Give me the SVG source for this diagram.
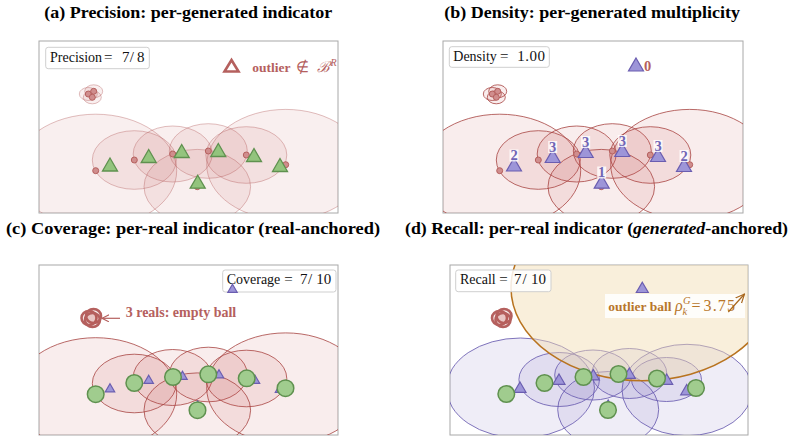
<svg xmlns="http://www.w3.org/2000/svg" xmlns:xlink="http://www.w3.org/1999/xlink" width="799" height="443" viewBox="0 0 799 443">
<style>
.title{font-family:"Liberation Serif",serif;font-weight:bold;font-size:17.5px;fill:#000}
.frame{fill:#fff;stroke:#a8a8a8;stroke-width:1}
.ballA{fill:#c0504d;fill-opacity:0.09;stroke:#b5605e;stroke-opacity:0.4;stroke-width:1}
.ballB{fill:#c0504d;fill-opacity:0.1;stroke:#a84542;stroke-opacity:0.8;stroke-width:1}
.ballD{fill:#7a6cc0;fill-opacity:0.12;stroke:#6a5db0;stroke-opacity:0.85;stroke-width:1}
.ring{fill:#c0504d;fill-opacity:0.12;stroke:#b5605e;stroke-width:2.6}
.dot{fill:#d08d8d;stroke:#b5605e;stroke-width:1}
.gtri{fill:#93c47d;stroke:#5f914f;stroke-width:1.3}
.ptri{fill:#9d95d8;stroke:#6a5db0;stroke-width:1.2}
.rc{fill:#a0cc8e;stroke:#5f914f;stroke-width:1.5}
.legend{fill:#fff;fill-opacity:0.85;stroke:#cfcfcf;stroke-width:1}
.lt{font-family:"Liberation Serif",serif;font-size:14px;fill:#111}
.cnt{font-family:"Liberation Serif",serif;font-weight:bold;font-size:14.5px;fill:#7065b5;text-anchor:middle}
.red{font-family:"Liberation Serif",serif;font-weight:bold;font-size:13.5px;fill:#b5605e}
.red14{font-family:"Liberation Serif",serif;font-weight:bold;font-size:14px;fill:#b5605e}
.org{font-family:"Liberation Serif",serif;font-size:13.5px;fill:#b8762a}
</style>
<defs>
<clipPath id="clipA"><rect x="39" y="41" width="299" height="172"/></clipPath>
<clipPath id="clipB"><rect x="443" y="41" width="300" height="172"/></clipPath>
<clipPath id="clipC"><rect x="39" y="265" width="299" height="170"/></clipPath>
<clipPath id="clipD"><rect x="450" y="265" width="298" height="170"/></clipPath>
<path id="triBig" d="M0,-6.5 L7.5,6.5 L-7.5,6.5 Z"/>
<path id="triSm" d="M0,-4.3 L4.7,3.8 L-4.7,3.8 Z"/>
<path id="triMd" d="M0,-5.5 L6,4.8 L-6,4.8 Z"/>
<circle id="rdot" r="3"/>
<circle id="gcirc" r="8.3"/>
<marker id="arrRed" markerWidth="8" markerHeight="8" refX="7" refY="4" orient="auto" markerUnits="userSpaceOnUse">
<path d="M0,0.5 L7,4 L0,7.5" fill="none" stroke="#b5605e" stroke-width="1.2"/>
</marker>
<marker id="arrOrg" markerWidth="10" markerHeight="10" refX="9" refY="5" orient="auto" markerUnits="userSpaceOnUse">
<path d="M0,1 L9,5 L0,9" fill="none" stroke="#a8661c" stroke-width="1.2"/>
</marker>
</defs>

<!-- Titles -->
<g id="titles">
<text class="title" x="44.3" y="18" textLength="288" lengthAdjust="spacingAndGlyphs">(a) Precision: per-generated indicator</text>
<text class="title" x="444.3" y="18" textLength="295.7" lengthAdjust="spacingAndGlyphs">(b) Density: per-generated multiplicity</text>
<text class="title" x="6" y="234" textLength="374" lengthAdjust="spacingAndGlyphs">(c) Coverage: per-real indicator (real-anchored)</text>
<text class="title" x="405" y="234" textLength="383" lengthAdjust="spacingAndGlyphs">(d) Recall: per-real indicator (<tspan font-style="italic">generated</tspan>-anchored)</text>
</g>

<!-- Panel A -->
<g id="panel-a">
<rect class="frame" x="39" y="41" width="299" height="172"/>
<g clip-path="url(#clipA)">
<g id="a-balls">
<ellipse class="ballA" cx="95.7" cy="170.7" rx="81" ry="56.5"/>
<ellipse class="ballA" cx="134.3" cy="160" rx="42" ry="29.3"/>
<ellipse class="ballA" cx="172.7" cy="154" rx="39.5" ry="28"/>
<ellipse class="ballA" cx="208.3" cy="151" rx="39" ry="27.3"/>
<ellipse class="ballA" cx="246.3" cy="155" rx="40.5" ry="28.3"/>
<ellipse class="ballA" cx="285.7" cy="164.7" rx="79" ry="55.3"/>
<ellipse class="ballA" cx="197.3" cy="186.7" rx="53.3" ry="37.3"/>
<ellipse class="ballA" cx="88.3" cy="94" rx="9" ry="6.5"/>
<ellipse class="ballA" cx="93.7" cy="91.3" rx="9" ry="6.5"/>
<ellipse class="ballA" cx="92.3" cy="97.3" rx="9" ry="6.5"/>
</g>
<g id="a-reals" class="dot">
<use href="#rdot" x="95.7" y="170.7"/><use href="#rdot" x="134.3" y="160"/><use href="#rdot" x="172.7" y="154"/>
<use href="#rdot" x="208.3" y="151"/><use href="#rdot" x="246.3" y="155"/><use href="#rdot" x="285.7" y="164.7"/>
<use href="#rdot" x="197.3" y="186.7"/><use href="#rdot" x="88.3" y="94"/><use href="#rdot" x="93.7" y="91.3"/><use href="#rdot" x="92.3" y="97.3"/>
</g>
<g id="a-gen" class="gtri">
<use href="#triBig" x="110" y="164.5"/><use href="#triBig" x="148.7" y="156"/><use href="#triBig" x="181.7" y="151"/>
<use href="#triBig" x="218.3" y="150"/><use href="#triBig" x="254" y="155"/><use href="#triBig" x="280" y="165"/>
<use href="#triBig" x="197.7" y="181.7"/>
</g>
</g>
<g id="a-outlier">
<path d="M231.5,60 L238.5,71.5 L224.5,71.5 Z" fill="#fff" stroke="#b5605e" stroke-width="2.6" stroke-linejoin="miter"/>
<text class="red" x="252.3" y="71.5">outlier<tspan font-weight="normal" font-size="15" dx="5">∉</tspan><tspan font-weight="normal" font-style="italic" font-size="15" dx="8">ℬ</tspan><tspan font-weight="normal" font-style="italic" font-size="10" dy="-6" dx="1">R</tspan></text>
</g>
<g id="a-legend">
<rect class="legend" x="45.7" y="47.3" width="103.6" height="21.4" rx="2.5"/>
<text class="lt" y="61.5"><tspan x="50">Precision</tspan><tspan x="104" font-size="15">=</tspan><tspan x="122" font-size="15">7</tspan><tspan x="129.8" font-size="15">/</tspan><tspan x="137" font-size="15">8</tspan></text>
</g>
</g>

<!-- Panel B -->
<g id="panel-b">
<rect class="frame" x="443" y="41" width="300" height="172"/>
<g clip-path="url(#clipB)">
<g transform="translate(404,0)">
<g id="b-balls">
<ellipse class="ballB" cx="95.7" cy="170.7" rx="81" ry="56.5"/>
<ellipse class="ballB" cx="134.3" cy="160" rx="42" ry="29.3"/>
<ellipse class="ballB" cx="172.7" cy="154" rx="39.5" ry="28"/>
<ellipse class="ballB" cx="208.3" cy="151" rx="39" ry="27.3"/>
<ellipse class="ballB" cx="246.3" cy="155" rx="40.5" ry="28.3"/>
<ellipse class="ballB" cx="285.7" cy="164.7" rx="79" ry="55.3"/>
<ellipse class="ballB" cx="197.3" cy="186.7" rx="53.3" ry="37.3"/>
<ellipse class="ballB" cx="88.3" cy="94" rx="9" ry="6.5"/>
<ellipse class="ballB" cx="93.7" cy="91.3" rx="9" ry="6.5"/>
<ellipse class="ballB" cx="92.3" cy="97.3" rx="9" ry="6.5"/>
</g>
<g id="b-reals" class="dot">
<use href="#rdot" x="95.7" y="170.7"/><use href="#rdot" x="134.3" y="160"/><use href="#rdot" x="172.7" y="154"/>
<use href="#rdot" x="208.3" y="151"/><use href="#rdot" x="246.3" y="155"/><use href="#rdot" x="285.7" y="164.7"/>
<use href="#rdot" x="197.3" y="186.7"/><use href="#rdot" x="88.3" y="94"/><use href="#rdot" x="93.7" y="91.3"/><use href="#rdot" x="92.3" y="97.3"/>
</g>
<g id="b-gen" class="ptri">
<use href="#triBig" x="110" y="164.5"/><use href="#triBig" x="148.7" y="156"/><use href="#triBig" x="181.7" y="151"/>
<use href="#triBig" x="218.3" y="150"/><use href="#triBig" x="254" y="155"/><use href="#triBig" x="280" y="165"/>
<use href="#triBig" x="197.7" y="181.7"/><use href="#triBig" x="232" y="64.5"/>
</g>
<g id="b-counts">
<g fill="#fff" fill-opacity="0.8">
<rect x="105.5" y="149.5" width="9" height="12"/><rect x="144.2" y="141" width="9" height="12"/>
<rect x="177.2" y="136" width="9" height="12"/><rect x="213.8" y="135" width="9" height="12"/>
<rect x="249.5" y="140" width="9" height="12"/><rect x="275.5" y="150" width="9" height="12"/>
<rect x="193.2" y="166.5" width="9" height="12"/>
</g>
<text class="cnt" x="110" y="160">2</text>
<text class="cnt" x="148.7" y="151.5">3</text>
<text class="cnt" x="181.7" y="146.5">3</text>
<text class="cnt" x="218.3" y="145.5">3</text>
<text class="cnt" x="254" y="150.5">3</text>
<text class="cnt" x="280" y="160.5">2</text>
<text class="cnt" x="197.7" y="177">1</text>
<text class="cnt" x="243.5" y="70.5" style="fill:#b5605e">0</text>
</g>
</g>
</g>
<g id="b-legend">
<rect class="legend" x="449.3" y="46.7" width="100" height="20.6" rx="2.5"/>
<text class="lt" y="60.5"><tspan x="453.3">Density</tspan><tspan x="500" font-size="15">=</tspan><tspan x="517.3" font-size="15" letter-spacing="0.5">1.00</tspan></text>
</g>
</g>

<!-- Panel C -->
<g id="panel-c">
<rect class="frame" x="39" y="265" width="299" height="170"/>
<g clip-path="url(#clipC)">
<g transform="translate(0,223.5)">
<g id="c-balls">
<ellipse class="ballB" cx="95.7" cy="170.7" rx="81" ry="56.5"/>
<ellipse class="ballB" cx="134.3" cy="160" rx="42" ry="29.3"/>
<ellipse class="ballB" cx="172.7" cy="154" rx="39.5" ry="28"/>
<ellipse class="ballB" cx="208.3" cy="151" rx="39" ry="27.3"/>
<ellipse class="ballB" cx="246.3" cy="155" rx="40.5" ry="28.3"/>
<ellipse class="ballB" cx="285.7" cy="164.7" rx="79" ry="55.3"/>
<ellipse class="ballB" cx="197.3" cy="186.7" rx="53.3" ry="37.3"/>
</g>
<g id="c-empty-balls">
<ellipse class="ring" cx="89" cy="94.5" rx="7.5" ry="7"/>
<ellipse class="ring" cx="93.5" cy="92.5" rx="7.5" ry="7"/>
<ellipse class="ring" cx="92.5" cy="96.5" rx="7.5" ry="7"/>
</g>
<g id="c-gen" class="ptri">
<use href="#triSm" x="110" y="164.5"/><use href="#triSm" x="148.7" y="156"/><use href="#triSm" x="182.5" y="152"/>
<use href="#triSm" x="219" y="150.5"/><use href="#triSm" x="255" y="156"/><use href="#triSm" x="280" y="165"/>
<use href="#triSm" x="197.7" y="181.7"/>
</g>
<g id="c-reals" class="rc">
<use href="#gcirc" x="95.7" y="170.7"/><use href="#gcirc" x="134.3" y="159.5"/><use href="#gcirc" x="173" y="153.5"/>
<use href="#gcirc" x="208.3" y="150.8"/><use href="#gcirc" x="246.7" y="154.8"/><use href="#gcirc" x="285.5" y="164.7"/>
<use href="#gcirc" x="197.5" y="186.7"/>
</g>
</g>
</g>
<g id="c-legend">
<rect class="legend" x="222.7" y="270" width="113.3" height="22" rx="2.5"/>
<text class="lt" y="284.3"><tspan x="226.7">Coverage</tspan><tspan x="284.3" font-size="15">=</tspan><tspan x="300" font-size="15">7</tspan><tspan x="308" font-size="15">/</tspan><tspan x="316.2" font-size="15">10</tspan></text>
</g>
<use href="#triSm" x="232.5" y="288.5" class="ptri"/>
<text class="red14" x="125.7" y="317">3 reals: empty ball</text>
</g>

<!-- Panel D -->
<g id="panel-d">
<rect class="frame" x="450" y="265" width="298" height="170"/>
<g clip-path="url(#clipD)">
<g transform="translate(410.5,223.5)">
<g id="d-balls">
<ellipse class="ballD" cx="110" cy="164.5" rx="74" ry="50"/>
<ellipse class="ballD" cx="148.7" cy="156" rx="40.3" ry="27"/>
<ellipse class="ballD" cx="182.5" cy="151.5" rx="38.3" ry="25"/>
<ellipse class="ballD" cx="218.8" cy="150" rx="37.5" ry="25"/>
<ellipse class="ballD" cx="256" cy="156" rx="35" ry="22"/>
<ellipse class="ballD" cx="276.5" cy="166.5" rx="65" ry="45.7"/>
<ellipse class="ballD" cx="197.7" cy="186" rx="50.5" ry="38"/>
</g>
<ellipse id="d-outlier-ball" cx="231.8" cy="64.2" rx="131.3" ry="93" fill="#f2dcb0" fill-opacity="0.45" stroke="#b8731f" stroke-width="1.5"/>
<g id="d-empty-balls">
<ellipse class="ring" cx="89" cy="94.5" rx="7.5" ry="7" fill-opacity="0.05"/>
<ellipse class="ring" cx="93.5" cy="92.5" rx="7.5" ry="7" fill-opacity="0.05"/>
<ellipse class="ring" cx="92.5" cy="96.5" rx="7.5" ry="7" fill-opacity="0.05"/>
</g>
<g id="d-gen" class="ptri">
<use href="#triMd" x="109.5" y="164"/><use href="#triMd" x="148.5" y="156"/><use href="#triMd" x="182.8" y="151.5"/>
<use href="#triMd" x="218.8" y="150"/><use href="#triMd" x="256.2" y="156"/><use href="#triMd" x="276.2" y="166.5"/>
<use href="#triMd" x="197.7" y="182"/><use href="#triMd" x="231.8" y="64.2"/>
</g>
<g id="d-reals" class="rc">
<use href="#gcirc" x="95.8" y="170.5"/><use href="#gcirc" x="134" y="159.5"/><use href="#gcirc" x="173" y="153.5"/>
<use href="#gcirc" x="208" y="150.5"/><use href="#gcirc" x="246.5" y="155"/><use href="#gcirc" x="285.5" y="164.5"/>
<use href="#gcirc" x="197.5" y="186.5"/>
</g>
</g>
</g>
<g id="d-legend">
<rect class="legend" x="455.7" y="270" width="95.3" height="21.7" rx="2.5"/>
<text class="lt" y="283.8"><tspan x="460">Recall</tspan><tspan x="499.3" font-size="15">=</tspan><tspan x="514" font-size="15">7</tspan><tspan x="522.5" font-size="15">/</tspan><tspan x="531" font-size="15">10</tspan></text>
</g>
<g id="d-outlier-label">
<rect x="605" y="294" width="140" height="24" fill="#fff" fill-opacity="0.85"/>
<text class="org" y="310.5"><tspan x="608.3" font-weight="bold">outlier ball</tspan><tspan x="675" font-style="italic" font-size="16">ρ</tspan><tspan x="683" dy="-6.5" font-style="italic" font-size="10.5">G</tspan><tspan x="682.5" dy="11" font-style="italic" font-size="10.5">k</tspan><tspan x="691.5" dy="-4.5" font-size="16">=</tspan><tspan x="703.5" font-size="16" textLength="31.5">3.75</tspan></text>
</g>
</g>

<!-- Connectors -->
<g id="connectors">
<line x1="120" y1="318.3" x2="102" y2="318.3" stroke="#b5605e" stroke-width="1.2" marker-end="url(#arrRed)"/>
<line x1="728.3" y1="312" x2="744.5" y2="294" stroke="#a8661c" stroke-width="1.2" marker-end="url(#arrOrg)"/>
</g>
</svg>
